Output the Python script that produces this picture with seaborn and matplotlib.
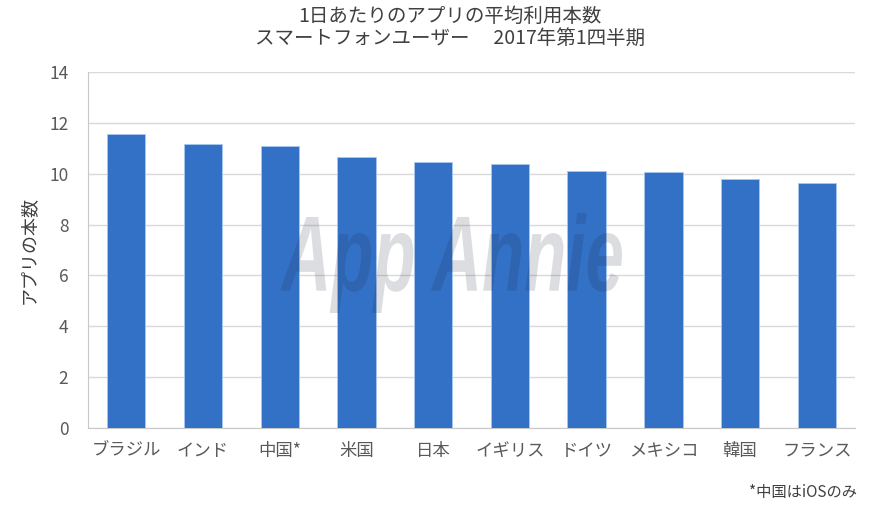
import seaborn as sns
import pandas as pd
import matplotlib.pyplot as plt
from matplotlib.textpath import TextPath
from matplotlib.patches import PathPatch
from matplotlib.font_manager import FontProperties
from matplotlib.transforms import Affine2D

# data
countries = ["ブラジル", "インド", "中国*", "米国", "日本", "イギリス", "ドイツ", "メキシコ", "韓国", "フランス"]
apps_per_day = [11.56, 11.17, 11.08, 10.67, 10.46, 10.37, 10.09, 10.07, 9.79, 9.65]
y_ticks = [0, 2, 4, 6, 8, 10, 12, 14]

df = pd.DataFrame({"country": countries, "apps": apps_per_day})

sns.set_style("white")
plt.rcParams['font.family'] = ['Noto Sans CJK JP', 'DejaVu Sans']

fig = plt.figure(figsize=(8.7, 5.15), dpi=100)
ax = fig.add_axes([0.101, 0.169, 0.882, 0.691])

sns.barplot(data=df, x="country", y="apps", color="#3371c7", saturation=1,
            width=0.5, edgecolor="#a9c8ef", linewidth=0.6, ax=ax, zorder=3)

ax.set_ylim(0, 14)
ax.set_yticks(y_ticks)
ax.set_xlim(-0.5, len(countries) - 0.5)
ax.grid(axis="y", color="#d9d9d9", linewidth=1, zorder=0)
ax.set_axisbelow(True)
for s in ["top", "right"]:
    ax.spines[s].set_visible(False)
for s in ["left", "bottom"]:
    ax.spines[s].set_color("#c8c8c8")
ax.tick_params(axis="both", length=0, colors="#595959", labelsize=12.5)
ax.tick_params(axis="x", pad=10)
ax.tick_params(axis="y", pad=14)
ax.set_xlabel("")
ax.set_ylabel("アプリの本数", fontsize=13, color="#404040", labelpad=8)

fig.text(0.517, 0.947, "1日あたりのアプリの平均利用本数\nスマートフォンユーザー　 2017年第1四半期",
         ha="center", va="center", fontsize=14, color="#404040", linespacing=1.05)

# watermark, squeezed into a narrow box (pixel coords)
tp = TextPath((0, 0), "App Annie", size=1,
              prop=FontProperties(family="Liberation Sans", style="italic", weight="bold"))
ext = tp.get_extents()
x0, x1, y0, y1 = 280, 622, 202, 302
tr = (Affine2D().translate(-ext.x0, -ext.y0)
      .scale((x1 - x0) / ext.width, (y1 - y0) / ext.height)
      .translate(x0, y0))
wm = PathPatch(tp, transform=tr, facecolor="#1a2030", edgecolor="none",
               alpha=0.15, zorder=4, clip_on=False)
ax.add_patch(wm)

fig.text(0.985, 0.043, "*中国はiOSのみ", ha="right", va="center", fontsize=11, color="#404040")

plt.savefig("out.png", dpi=100)
